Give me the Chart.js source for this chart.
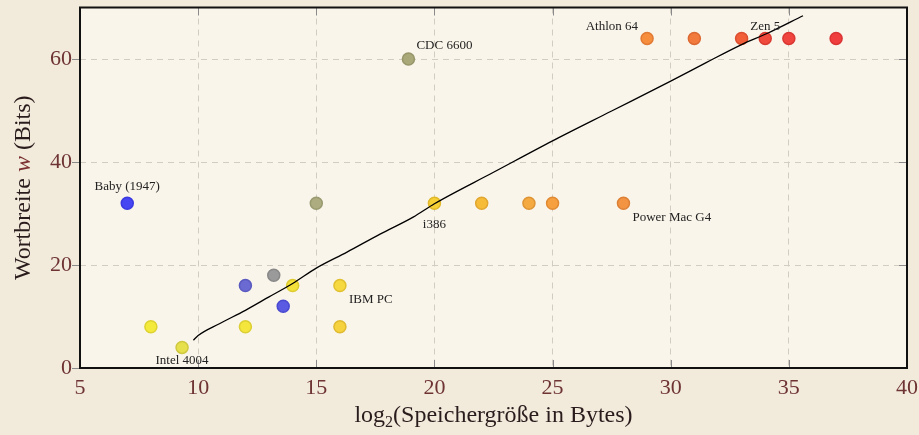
<!DOCTYPE html>
<html>
<head>
<meta charset="utf-8">
<script src="https://cdn.jsdelivr.net/npm/chart.js@4.4.1/dist/chart.umd.min.js"></script>
<style>
  html, body { margin: 0; padding: 0; background: #f2eadb; }
  canvas { display: block; }
</style>
</head>
<body>
<canvas id="wordChart" width="919" height="435"></canvas>
<script>
// log2 of memory size in bytes, and word width in bits
const memLog2  = [7, 8, 9.32, 12, 12, 13.2, 13.6, 14, 15, 16, 16, 18.9, 20, 22, 24, 25, 28, 29, 31, 33, 34, 35, 37];
const wordBits = [32, 8, 4, 16, 8, 18, 12, 16, 32, 16, 8, 60, 32, 32, 32, 32, 32, 64, 64, 64, 64, 64, 64];
const pointNames = ['Baby (1947)', '', 'Intel 4004', '', '', '', '', '', '', 'IBM PC', '', 'CDC 6600',
                    'i386', '', '', '', 'Power Mac G4', 'Athlon 64', '', '', 'Zen 5', '', ''];
const fillColors = ['#4646f2', '#f4ea3c', '#e6e04c', '#6a6ad2', '#f4e63c', '#9a9a9a', '#5a5ae2', '#f4e23a',
                    '#acac80', '#f6d840', '#f6d23e', '#a8a878', '#f6d034', '#f6bc38', '#f4aa40', '#f6a040',
                    '#f29442', '#f68e3e', '#f27a3c', '#f25e38', '#f04a3c', '#f0443e', '#f03e3e'];
const edgeColors = ['#3a3ae0', '#ddd230', '#cfc840', '#5a5ac0', '#dccf34', '#888888', '#4a4ad0', '#dccb30',
                    '#9a9a70', '#e0c030', '#dfba30', '#96966a', '#e0b82a', '#e0a630', '#de9434', '#e08a34',
                    '#dc8036', '#e07a34', '#dc6832', '#dc4e30', '#da3c32', '#da3834', '#da3434'];

// fitted trend curve
const trendX = [9.8, 10.0, 10.9, 12.0, 13.0, 14.0, 15.0, 16.3, 17.7, 19.1, 20.0, 22.5, 25.0, 27.5, 30.0, 31.5, 33.0, 34.1, 35.6];
const trendY = [5.4, 6.3, 8.6, 11.2, 13.8, 16.4, 19.4, 22.5, 26.0, 29.3, 31.9, 38.0, 44.1, 49.9, 55.7, 59.3, 62.8, 65.0, 68.4];

const xTicks = [5, 10, 15, 20, 25, 30, 35, 40];
const yTicks = [0, 20, 40, 60];

const SERIF = '"Liberation Serif", "DejaVu Serif", serif';
const TICK_COLOR = '#6e3333';

const labelPlacement = {
  'Baby (1947)':  { dx: 0,  dy: -17, align: 'center' },
  'Intel 4004':   { dx: 0,  dy: 13,  align: 'center' },
  'IBM PC':       { dx: 9,  dy: 14,  align: 'left' },
  'CDC 6600':     { dx: 8,  dy: -13, align: 'left' },
  'i386':         { dx: 0,  dy: 21,  align: 'center' },
  'Power Mac G4': { dx: 9,  dy: 14,  align: 'left' },
  'Athlon 64':    { dx: -9, dy: -12, align: 'right' },
  'Zen 5':        { dx: 0,  dy: -12, align: 'center' }
};

const backdrop = {
  id: 'backdrop',
  beforeDraw(chart) {
    const { ctx, chartArea: a } = chart;
    ctx.save();
    ctx.fillStyle = '#f2eadb';
    ctx.fillRect(0, 0, chart.width, chart.height);
    ctx.fillStyle = '#faf5ea';
    ctx.fillRect(a.left, a.top, a.right - a.left, a.bottom - a.top);
    ctx.restore();
  }
};

const innerTicks = {
  id: 'innerTicks',
  beforeDatasetsDraw(chart) {
    const { ctx, chartArea: a, scales } = chart;
    ctx.save();
    ctx.strokeStyle = '#8a8a8a';
    ctx.lineWidth = 1;
    ctx.beginPath();
    xTicks.slice(1, -1).forEach(v => {
      const px = Math.round(scales.x.getPixelForValue(v)) + 0.5;
      ctx.moveTo(px, a.bottom); ctx.lineTo(px, a.bottom - 8);
      ctx.moveTo(px, a.top);    ctx.lineTo(px, a.top + 8);
    });
    yTicks.slice(1).forEach(v => {
      const py = Math.round(scales.y.getPixelForValue(v)) + 0.5;
      ctx.moveTo(a.right, py); ctx.lineTo(a.right - 8, py);
    });
    ctx.stroke();
    ctx.restore();
  }
};

function drawRich(ctx, parts, x, y) {
  // parts: [{text, font, color, shift}], centred at x
  let total = 0;
  parts.forEach(p => { ctx.font = p.font; p.w = ctx.measureText(p.text).width; total += p.w; });
  let cx = x - total / 2;
  parts.forEach(p => {
    ctx.font = p.font;
    ctx.fillStyle = p.color;
    ctx.fillText(p.text, cx, y + (p.shift || 0));
    cx += p.w;
  });
}

const decorations = {
  id: 'decorations',
  afterDraw(chart) {
    const { ctx, chartArea: a, scales } = chart;
    ctx.save();

    // frame
    ctx.strokeStyle = '#111111';
    ctx.lineWidth = 2;
    ctx.strokeRect(a.left, a.top, a.right - a.left, a.bottom - a.top);

    // point labels
    ctx.font = '13px ' + SERIF;
    ctx.fillStyle = '#222222';
    ctx.textBaseline = 'middle';
    pointNames.forEach((name, i) => {
      if (!name) return;
      const p = labelPlacement[name];
      ctx.textAlign = p.align;
      ctx.fillText(name, scales.x.getPixelForValue(memLog2[i]) + p.dx,
                   scales.y.getPixelForValue(wordBits[i]) + p.dy);
    });

    // axis titles
    ctx.textAlign = 'left';
    ctx.textBaseline = 'alphabetic';
    const big = '24px ' + SERIF;
    drawRich(ctx, [
      { text: 'log', font: big, color: '#2a1c1c' },
      { text: '2', font: '16px ' + SERIF, color: '#2a1c1c', shift: 5 },
      { text: '(Speichergröße in Bytes)', font: big, color: '#2a1c1c' }
    ], (a.left + a.right) / 2, 422);

    ctx.translate(30, (a.top + a.bottom) / 2);
    ctx.rotate(-Math.PI / 2);
    drawRich(ctx, [
      { text: 'Wortbreite ', font: big, color: '#2a1c1c' },
      { text: 'w', font: 'italic 24px ' + SERIF, color: '#7a3030' },
      { text: ' (Bits)', font: big, color: '#2a1c1c' }
    ], 0, 0);

    ctx.restore();
  }
};

const gridStyle = {
  color: '#d2ccc2',
  lineWidth: 1
};
const dashedBorder = { display: false, dash: [6, 5] };

new Chart(document.getElementById('wordChart'), {
  type: 'scatter',
  data: {
    datasets: [
      {
        label: 'Trend',
        data: trendX.map((x, i) => ({ x, y: trendY[i] })),
        showLine: true,
        borderColor: '#000000',
        borderWidth: 1.3,
        pointRadius: 0,
        cubicInterpolationMode: 'monotone',
        order: 0
      },
      {
        label: 'Rechner',
        data: memLog2.map((x, i) => ({ x, y: wordBits[i] })),
        pointRadius: 6,
        pointBorderWidth: 1.5,
        pointBackgroundColor: fillColors,
        pointBorderColor: edgeColors,
        order: 1
      }
    ]
  },
  options: {
    responsive: false,
    animation: false,
    devicePixelRatio: 1,
    layout: { padding: { top: 6, right: 12, left: 0, bottom: 0 } },
    plugins: {
      legend: { display: false },
      tooltip: { enabled: false }
    },
    scales: {
      x: {
        type: 'linear',
        min: 5,
        max: 40,
        afterBuildTicks: s => { s.ticks = xTicks.map(v => ({ value: v })); },
        afterFit: s => { s.height = 67; s.paddingLeft = 0; s.paddingRight = 0; },
        border: dashedBorder,
        grid: { ...gridStyle, drawTicks: false },
        ticks: {
          padding: 7,
          maxRotation: 0,
          color: TICK_COLOR,
          font: { family: SERIF, size: 22 }
        }
      },
      y: {
        type: 'linear',
        min: 0,
        max: 70,
        afterBuildTicks: s => { s.ticks = yTicks.map(v => ({ value: v })); },
        afterFit: s => { s.width = 80; s.paddingTop = 0; s.paddingBottom = 0; },
        border: dashedBorder,
        grid: { ...gridStyle, drawTicks: true, tickLength: 8, tickColor: '#8a8a8a', tickBorderDash: [] },
        ticks: {
          padding: 0,
          color: TICK_COLOR,
          font: { family: SERIF, size: 22 }
        }
      }
    }
  },
  plugins: [backdrop, innerTicks, decorations]
});
</script>
</body>
</html>
